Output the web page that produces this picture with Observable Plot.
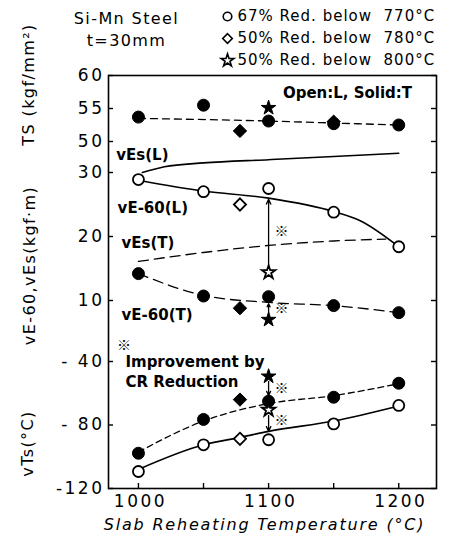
<!DOCTYPE html>
<html><head><meta charset="utf-8">
<script src="https://cdn.jsdelivr.net/npm/d3@7"></script>
<script src="https://cdn.jsdelivr.net/npm/@observablehq/plot@0.6"></script>
<style>
body{margin:0;background:#fff}
svg{font-family:"DejaVu Sans",sans-serif}
</style>
</head><body><div id="chart"></div>
<script>
// ---------- data ----------
const temps = [1000, 1050, 1100, 1150, 1200];
// Tensile strength TS (kgf/mm2), transverse (solid circles)
const tsT = [53.7, 55.5, 53.1, 52.7, 52.5];
// vE-60 (kgf·m)
const vE60L = [28.9, 27.0, 27.5, 23.8, 18.4];
const vE60T = [14.2, 10.7, 10.6, 9.2, 8.1];
// vTs (°C)
const vTsL = [-109.3, -92.5, -89.3, -79.3, -67.7];
const vTsT = [-97.8, -76.5, -65.0, -62.5, -53.7];

// 50 % red. below 780 °C (diamonds)
const diamondTemps = [1078, 1150];
const diamondTsT = [51.6, 53.0];
const diamondVE60L = [25.0];
const diamondVE60T = [8.8];
const diamondVTsL = [-88.7];
const diamondVTsT = [-64.0];

// 50 % red. below 800 °C (stars)
const starTemp = 1100;
const starTsT = 55.1;
const starVE60L = 14.4;
const starVE60T = 7.0;
const starVTsL = -70.5;
const starVTsT = -49.4;

// trend curves
const tsTrendX = [1000, 1100, 1150, 1200];
const tsTrendT = [53.5, 53.1, 52.8, 52.5];
const vEsLX = [1003, 1020, 1050, 1100, 1150, 1200];
const vEsL = [30.0, 30.9, 31.5, 32.0, 32.5, 33.0];
const vEsTX = [1000, 1050, 1100, 1150, 1190];
const vEsT = [16.1, 17.5, 18.6, 19.3, 19.6];
const vE60LTrendX = [1000, 1050, 1100, 1150, 1170, 1200];
const vE60LTrend = [28.8, 27.1, 26.0, 23.9, 22.5, 18.4];
const vE60TTrendX = [1000, 1050, 1100, 1150, 1200];
const vE60TTrend = [14.2, 10.8, 9.7, 9.2, 8.1];
const vTsTTrendX = [1000, 1050, 1100, 1150, 1200];
const vTsTTrend = [-97, -77.5, -66.5, -61.5, -54];
const vTsLTrendX = [1000, 1050, 1080, 1100, 1150, 1200];
const vTsLTrend = [-108, -92.5, -87.5, -84, -77.5, -68];

// improvement arrows (at 1100 °C): [panel, from, to]
const arrowPanel = ["vE", "vE", "vTs", "vTs"];
const arrowFrom = [15.4, 7.9, -52.5, -74.0];
const arrowTo = [25.8, 9.5, -61.5, -84.0];
// reference marks ※
const markPanel = ["vE", "vE", "vTs", "vTs", "vTs"];
const markX = [1110, 1110, 1110, 1110, 989];
const markY = [20.8, 8.7, -57.2, -77.2, -29.9];

// tick labels
const tsTicks = [60, 55, 50];
const vETicks = [30, 20, 10];
const vTsTicks = [-40, -80, -120];
const vTsTickLabels = ["- 40", "- 80", "-120"];
const xTickLabels = [1000, 1100, 1200];
const xTicks = [1000, 1050, 1100, 1150, 1200];

// annotations
const annText = ["Open:L, Solid:T", "vEs(L)", "vE-60(L)", "vEs(T)", "vE-60(T)", "Improvement by", "CR Reduction"];
const annPanel = ["TS", "vE", "vE", "vE", "vE", "vTs", "vTs"];
const annX = [1111, 983, 984, 987, 987, 990, 990];
const annY = [57.3, 32.7, 24.5, 18.9, 7.7, -40.6, -53.2];

const titleLines = ["Si-Mn Steel", "t=30mm"];
const legendText = ["67% Red. below  770°C", "50% Red. below  780°C", "50% Red. below  800°C"];
const legendSymbol = ["circle", "diamond2", "star"];
const yTitles = ["TS (kgf/mm²)", "vE-60,vEs(kgf·m)", "vTs(°C)"];
const xTitle = "Slab Reheating Temperature (°C)";

// ---------- broken y axis: three stacked sub-scales in one y scale ----------
const Vts = v => 413 - (60 - v) * 6.6;
const Vve = v => 188 + (v - 10) * 6.4;
const Vvt = v => (v + 120) * 1.5875;
const Vp = {TS: Vts, vE: Vve, vTs: Vvt};

const pts = (xs, ys) => xs.map((x, i) => ({x, y: ys[i]}));
const font = {fontFamily: "DejaVu Sans, sans-serif"};

const yTicks = [
  ...tsTicks.map(v => ({v: Vts(v), label: String(v)})),
  ...vETicks.map(v => ({v: Vve(v), label: String(v)})),
  ...vTsTicks.map((v, i) => ({v: Vvt(v), label: vTsTickLabels[i]}))
];
const W = 454, H = 548, mL = 108, mR = 18, mT = 75, mB = 60;
const fw = W - mL - mR, fh = H - mT - mB;

const solidDot = (data, symbol, r) => Plot.dot(data, {x: "x", y: "y", symbol, r, fill: "black", stroke: "black", strokeWidth: 1});
const openDot = (data, symbol, r) => Plot.dot(data, {x: "x", y: "y", symbol, r, fill: "white", stroke: "black", strokeWidth: 1.8});
const tr = (xs, ys, f) => pts(xs, ys).map(d => ({x: d.x, y: f(d.y)}));

// header / legend items positioned relative to the frame's top-left corner
const headerMarks = [
  ...titleLines.map((t, i) => Plot.text([t], {text: d => d, frameAnchor: "top-left", textAnchor: "middle", lineAnchor: "middle",
    dx: 18, dy: -57 + i * 22, fontSize: 16, ...font})),
  ...legendText.map((t, i) => Plot.dot([t], {frameAnchor: "top-left", dx: 119, dy: -59 + i * 22,
    symbol: legendSymbol[i], r: legendSymbol[i] === "star" ? 4 : 4.3, fill: "white", stroke: "black", strokeWidth: 1.6})),
  ...legendText.map((t, i) => Plot.text([t], {text: d => d, frameAnchor: "top-left", textAnchor: "start", lineAnchor: "middle",
    dx: 129, dy: -59 + i * 22, fontSize: 15, ...font}))
];

const chart = Plot.plot({
  width: W, height: H,
  marginLeft: mL, marginRight: mR, marginTop: mT, marginBottom: mB,
  x: {domain: [977, 1229], axis: null},
  y: {domain: [0, 413], axis: null},
  style: {background: "white", color: "black", fontFamily: "DejaVu Sans, sans-serif"},
  marks: [
    Plot.frame({stroke: "black", strokeWidth: 1.6}),
    // ticks
    Plot.tickY(yTicks, {y: "v", insetRight: fw - 5, stroke: "black", strokeWidth: 1.4}),
    Plot.tickY(yTicks, {y: "v", insetLeft: fw - 5, stroke: "black", strokeWidth: 1.4}),
    Plot.tickX(xTicks, {x: d => d, insetTop: fh - 5, stroke: "black", strokeWidth: 1.4}),
    Plot.text(yTicks, {y: "v", text: "label", frameAnchor: "left", textAnchor: "end", dx: -4, fontSize: 17, ...font}),
    Plot.text(xTickLabels, {x: d => d, text: d => String(d), frameAnchor: "bottom", dy: 18, dx: 2, fontSize: 17, ...font}),
    // trend lines
    Plot.line(tr(tsTrendX, tsTrendT, Vts), {x: "x", y: "y", stroke: "black", strokeWidth: 1.3, strokeDasharray: "7,5", curve: "monotone-x"}),
    Plot.line(tr(vEsLX, vEsL, Vve), {x: "x", y: "y", stroke: "black", strokeWidth: 1.6, curve: "monotone-x"}),
    Plot.line(tr(vEsTX, vEsT, Vve), {x: "x", y: "y", stroke: "black", strokeWidth: 1.3, strokeDasharray: "10,6", curve: "monotone-x"}),
    Plot.line(tr(vE60LTrendX, vE60LTrend, Vve), {x: "x", y: "y", stroke: "black", strokeWidth: 1.6, curve: "monotone-x"}),
    Plot.line(tr(vE60TTrendX, vE60TTrend, Vve), {x: "x", y: "y", stroke: "black", strokeWidth: 1.3, strokeDasharray: "10,6", curve: "monotone-x"}),
    Plot.line(tr(vTsTTrendX, vTsTTrend, Vvt), {x: "x", y: "y", stroke: "black", strokeWidth: 1.3, strokeDasharray: "6,4", curve: "monotone-x"}),
    Plot.line(tr(vTsLTrendX, vTsLTrend, Vvt), {x: "x", y: "y", stroke: "black", strokeWidth: 1.6, curve: "monotone-x"}),
    // arrows
    Plot.arrow(arrowPanel.map((p, i) => ({x: starTemp, y1: Vp[p](arrowFrom[i]), y2: Vp[p](arrowTo[i])})),
      {x1: "x", x2: "x", y1: "y1", y2: "y2", stroke: "black", strokeWidth: 1.3, headLength: 6, headAngle: 50}),
    // open markers (L)
    openDot(tr(temps, vE60L, Vve), "circle", 5.5),
    openDot(tr(temps, vTsL, Vvt), "circle", 5.5),
    openDot(tr([diamondTemps[0]], diamondVE60L, Vve), "diamond2", 5.5),
    openDot(tr([diamondTemps[0]], diamondVTsL, Vvt), "diamond2", 5.5),
    openDot(tr([starTemp], [starVE60L], Vve), "star", 4.2),
    openDot(tr([starTemp], [starVTsL], Vvt), "star", 4.2),
    // solid markers (T)
    solidDot(tr(temps, tsT, Vts), "circle", 6),
    solidDot(tr(temps, vE60T, Vve), "circle", 6),
    solidDot(tr(temps, vTsT, Vvt), "circle", 6),
    solidDot(tr(diamondTemps, diamondTsT, Vts), "diamond2", 6),
    solidDot(tr([diamondTemps[0]], diamondVE60T, Vve), "diamond2", 6),
    solidDot(tr([diamondTemps[0]], diamondVTsT, Vvt), "diamond2", 6),
    solidDot(tr([starTemp], [starTsT], Vts), "star", 4.6),
    solidDot(tr([starTemp], [starVE60T], Vve), "star", 4.6),
    solidDot(tr([starTemp], [starVTsT], Vvt), "star", 4.6),
    // reference marks
    Plot.text(markX.map((x, i) => ({x, y: Vp[markPanel[i]](markY[i])})), {x: "x", y: "y", text: () => "※", fontSize: 14, fontWeight: "bold", fontFamily: "Noto Sans CJK JP, DejaVu Sans, sans-serif"}),
    // annotations
    Plot.text(annText.map((t, i) => ({t, x: annX[i], y: Vp[annPanel[i]](annY[i])})), {x: "x", y: "y", text: "t", textAnchor: "start", fontSize: 15, fontWeight: "bold", ...font}),
    // axis titles
    Plot.text([yTitles[0]], {text: d => d, frameAnchor: "top-left", textAnchor: "middle", lineAnchor: "middle", dx: -80, dy: 9, rotate: -90, fontSize: 16, ...font}),
    Plot.text([yTitles[1]], {text: d => d, frameAnchor: "top-left", textAnchor: "middle", lineAnchor: "middle", dx: -79, dy: 190, rotate: -90, fontSize: 16, ...font}),
    Plot.text([yTitles[2]], {text: d => d, frameAnchor: "top-left", textAnchor: "middle", lineAnchor: "middle", dx: -81, dy: 368, rotate: -90, fontSize: 16, ...font}),
    Plot.text([xTitle], {text: d => d, frameAnchor: "bottom", textAnchor: "middle", dx: -8, dy: 41, fontSize: 16, fontStyle: "italic", ...font}),
    ...headerMarks
  ]
});
// letter spacing (the scanned lettering is very wide), matched by text content
const spacing = new Map();
yTicks.forEach(d => spacing.set(d.label, 2.5));
xTickLabels.forEach(d => spacing.set(String(d), 2.5));
titleLines.forEach(d => spacing.set(d, 1.4));
legendText.forEach(d => spacing.set(d, 1.0));
yTitles.forEach(d => spacing.set(d, 1.4));
spacing.set(xTitle, 1.8);
d3.select(chart).selectAll("text").each(function() {
  const s = spacing.get(this.textContent);
  if (s != null) d3.select(this).attr("letter-spacing", s).style("white-space", "pre");
});
document.getElementById("chart").appendChild(chart);
</script>
</body></html>
